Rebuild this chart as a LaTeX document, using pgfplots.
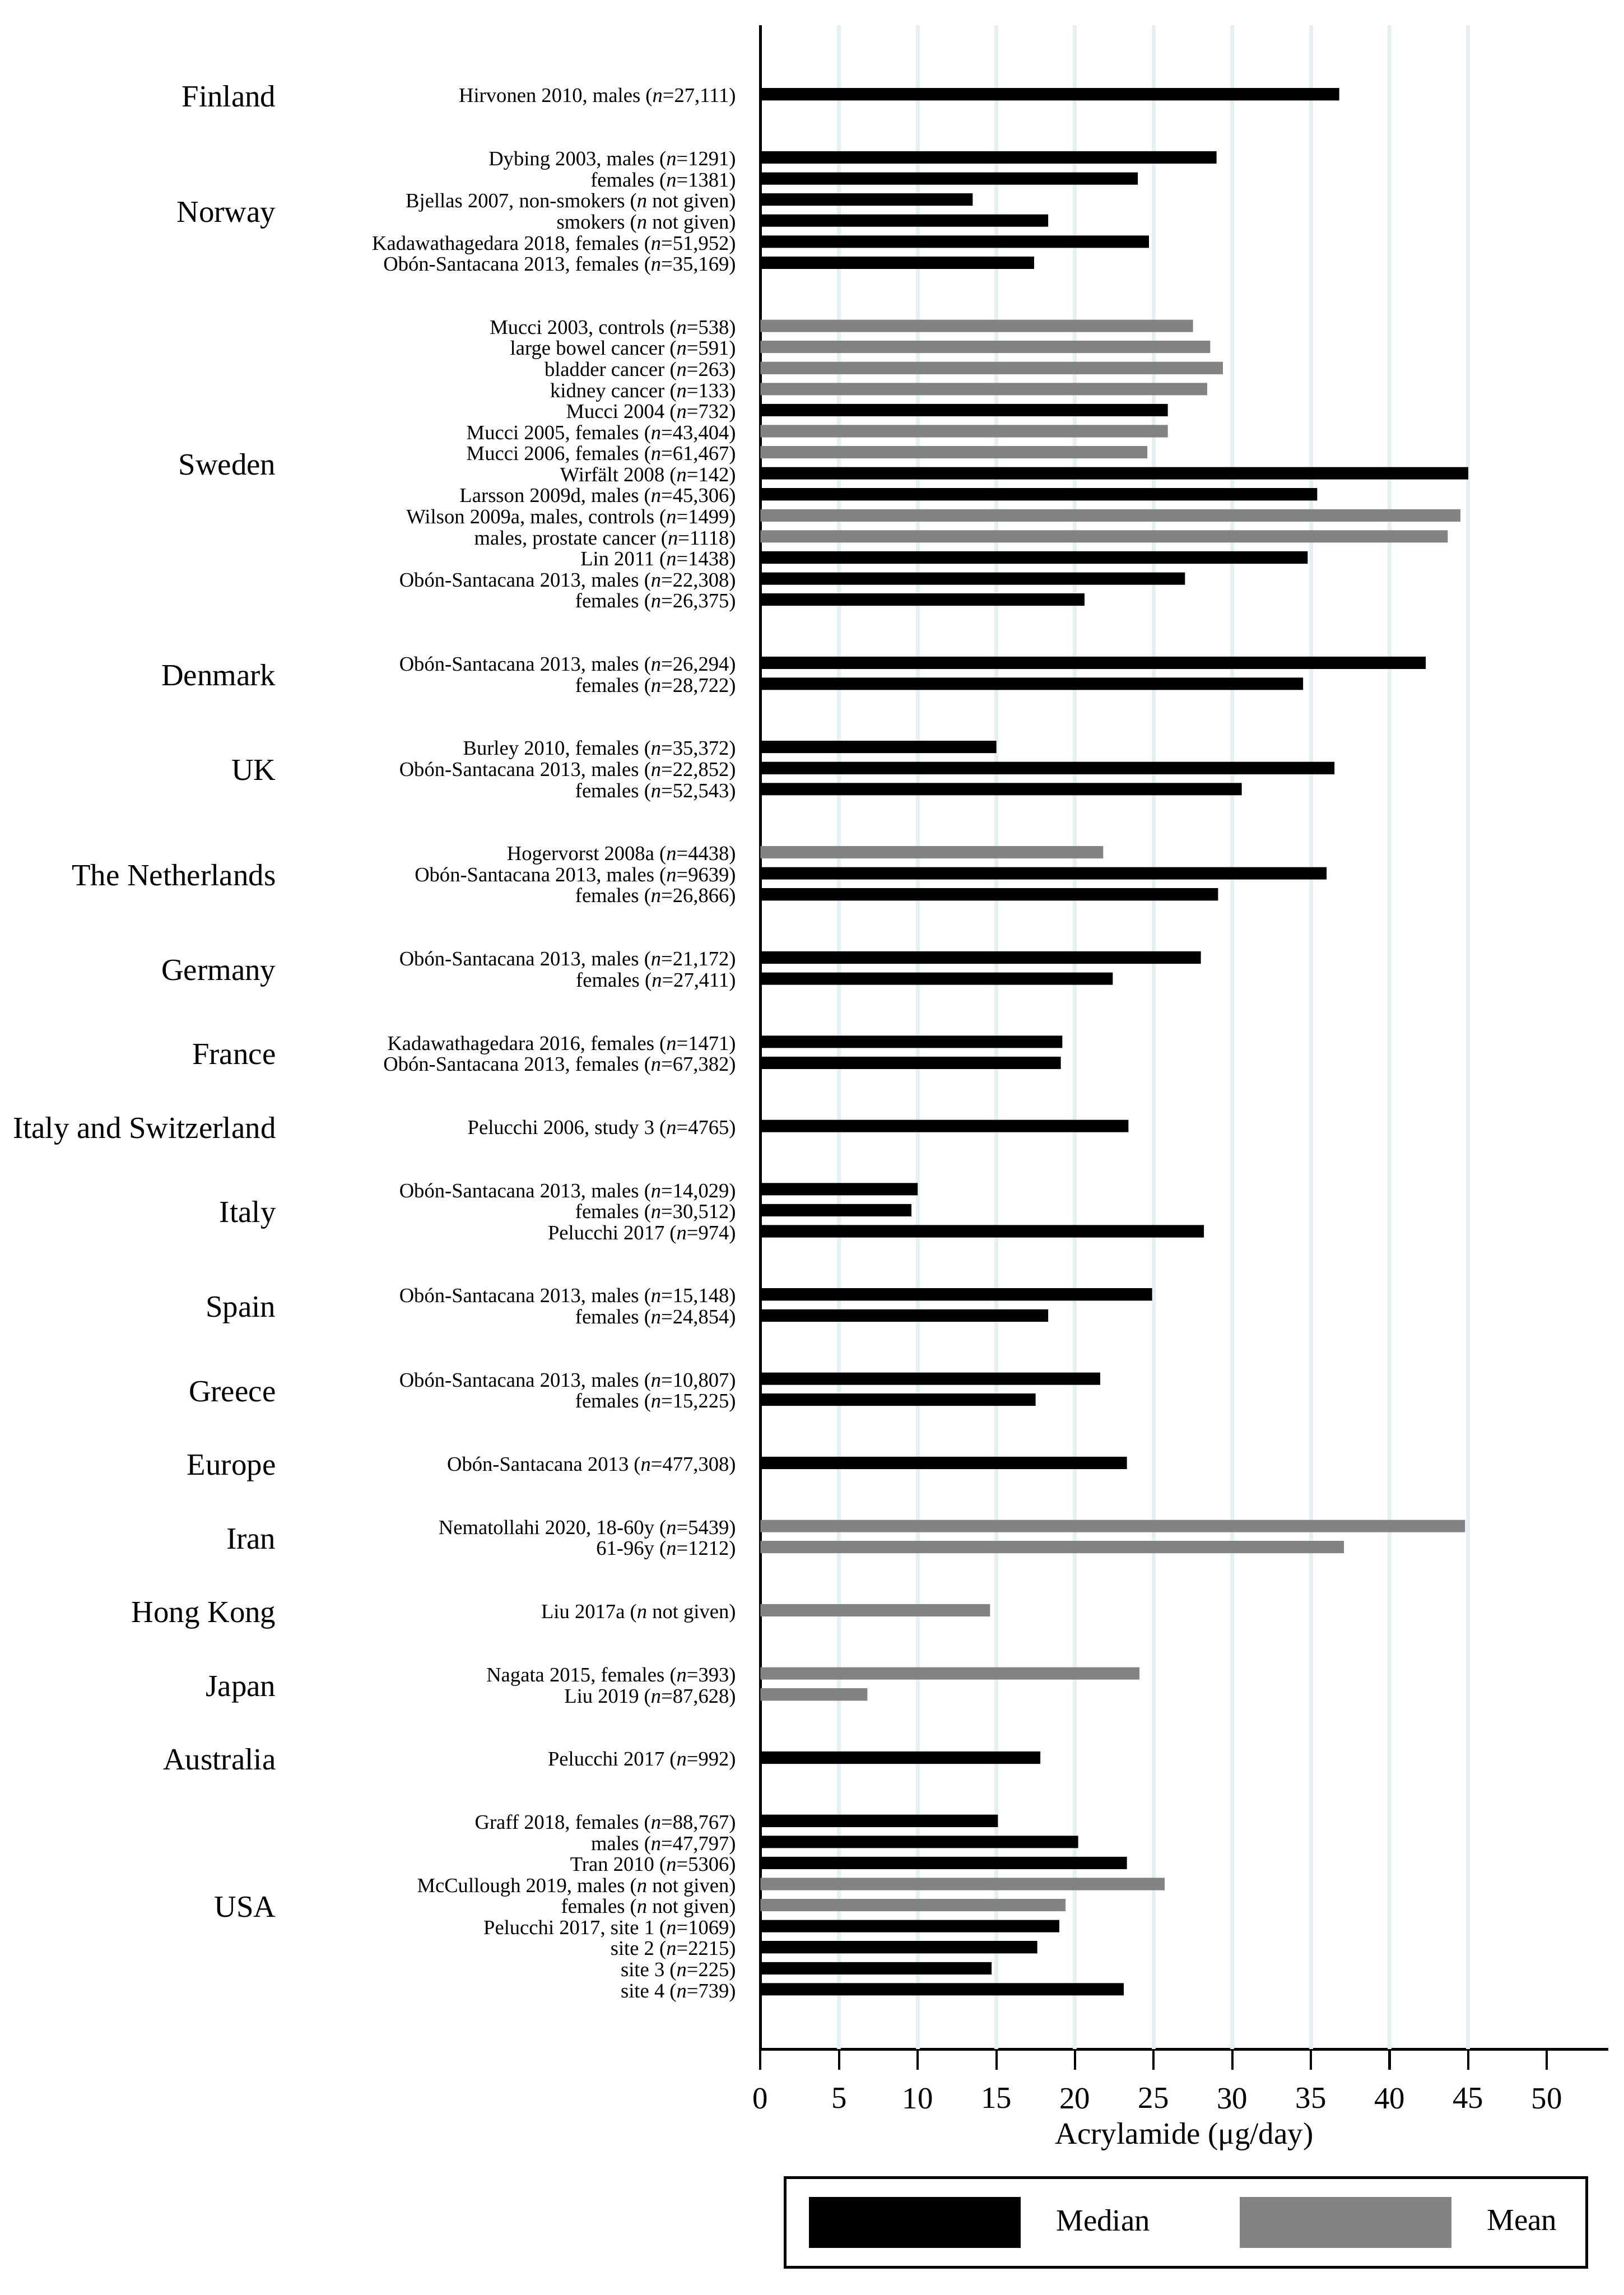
\documentclass[border=0pt]{standalone}
\usepackage{fontspec}
\setmainfont{Liberation Serif}
\usepackage{pgfplots}
\pgfplotsset{compat=1.18}
\definecolor{meangray}{RGB}{131,131,131}
\definecolor{gridc}{RGB}{228,240,241}
\newcommand{\bigf}{\fontsize{10.8}{13}\selectfont}
\newcommand{\smallf}{\fontsize{7.2}{8.6}\selectfont}
\pgfplotsset{bigpatch/.style={legend image code/.code={\fill[##1] (0pt,-8.9pt) rectangle (74.4pt,8.9pt);}}}

\begin{document}
\begin{tikzpicture}
\useasboundingbox (0,0) rectangle (570.4pt,-806pt);
\begin{axis}[
  at={(267.1pt,-719.7pt)}, anchor=south west,
  scale only axis, width=297.8pt, height=710.9pt,
  xmin=0, xmax=53.9, ymin=-92.85, ymax=3.286,
  axis lines*=left,
  axis line style={line width=1.1pt, black},
  xbar, bar shift=0pt, bar width=0.587,
  xtick={0,5,...,50},
  tick align=outside,
  major tick length=7.2pt,
  xtick style={line width=0.8pt, black},
  ytick style={draw=none},
  /pgf/number format/assume math mode=true,
  xticklabel style={font=\bigf, anchor=north, inner sep=0pt, yshift=-6.2pt},
  xlabel={Acrylamide (μg/day)},
  xlabel style={font=\bigf, at={(axis description cs:0.5,0)}, anchor=center, yshift=-30.7pt, inner sep=0pt},
  extra x ticks={5,10,...,45}, extra x tick labels={},
  extra x tick style={xmajorgrids=true, major grid style={gridc, line width=1.4pt}, major tick length=0pt},
  ytick={0,-3,-4,-5,-6,-7,-8,-11,-12,-13,-14,-15,-16,-17,-18,-19,-20,-21,-22,-23,-24,-27,-28,-31,-32,-33,-36,-37,-38,-41,-42,-45,-46,-49,-52,-53,-54,-57,-58,-61,-62,-65,-68,-69,-72,-75,-76,-79,-82,-83,-84,-85,-86,-87,-88,-89,-90},
  yticklabels={
    {Hirvonen 2010, males (\textit{n}=27,111)},
    {Dybing 2003, males (\textit{n}=1291)},
    {females (\textit{n}=1381)},
    {Bjellas 2007, non-smokers (\textit{n} not given)},
    {smokers (\textit{n} not given)},
    {Kadawathagedara 2018, females (\textit{n}=51,952)},
    {Obón-Santacana 2013, females (\textit{n}=35,169)},
    {Mucci 2003, controls (\textit{n}=538)},
    {large bowel cancer (\textit{n}=591)},
    {bladder cancer (\textit{n}=263)},
    {kidney cancer (\textit{n}=133)},
    {Mucci 2004 (\textit{n}=732)},
    {Mucci 2005, females (\textit{n}=43,404)},
    {Mucci 2006, females (\textit{n}=61,467)},
    {Wirfält 2008 (\textit{n}=142)},
    {Larsson 2009d, males (\textit{n}=45,306)},
    {Wilson 2009a, males, controls (\textit{n}=1499)},
    {males, prostate cancer (\textit{n}=1118)},
    {Lin 2011 (\textit{n}=1438)},
    {Obón-Santacana 2013, males (\textit{n}=22,308)},
    {females (\textit{n}=26,375)},
    {Obón-Santacana 2013, males (\textit{n}=26,294)},
    {females (\textit{n}=28,722)},
    {Burley 2010, females (\textit{n}=35,372)},
    {Obón-Santacana 2013, males (\textit{n}=22,852)},
    {females (\textit{n}=52,543)},
    {Hogervorst 2008a (\textit{n}=4438)},
    {Obón-Santacana 2013, males (\textit{n}=9639)},
    {females (\textit{n}=26,866)},
    {Obón-Santacana 2013, males (\textit{n}=21,172)},
    {females (\textit{n}=27,411)},
    {Kadawathagedara 2016, females (\textit{n}=1471)},
    {Obón-Santacana 2013, females (\textit{n}=67,382)},
    {Pelucchi 2006, study 3 (\textit{n}=4765)},
    {Obón-Santacana 2013, males (\textit{n}=14,029)},
    {females (\textit{n}=30,512)},
    {Pelucchi 2017 (\textit{n}=974)},
    {Obón-Santacana 2013, males (\textit{n}=15,148)},
    {females (\textit{n}=24,854)},
    {Obón-Santacana 2013, males (\textit{n}=10,807)},
    {females (\textit{n}=15,225)},
    {Obón-Santacana 2013 (\textit{n}=477,308)},
    {Nematollahi 2020, 18-60y (\textit{n}=5439)},
    {61-96y (\textit{n}=1212)},
    {Liu 2017a (\textit{n} not given)},
    {Nagata 2015, females (\textit{n}=393)},
    {Liu 2019 (\textit{n}=87,628)},
    {Pelucchi 2017 (\textit{n}=992)},
    {Graff 2018, females (\textit{n}=88,767)},
    {males (\textit{n}=47,797)},
    {Tran 2010 (\textit{n}=5306)},
    {McCullough 2019, males (\textit{n} not given)},
    {females (\textit{n} not given)},
    {Pelucchi 2017, site 1 (\textit{n}=1069)},
    {site 2 (\textit{n}=2215)},
    {site 3 (\textit{n}=225)},
    {site 4 (\textit{n}=739)}
  },
  yticklabel style={font=\smallf, anchor=base east, inner sep=0pt, xshift=-1.2pt, yshift=-2.9pt},
  extra y ticks={0,-5.5,-17.5,-27.5,-32,-37,-41.5,-45.5,-49,-53,-57.5,-61.5,-65,-68.5,-72,-75.5,-79,-86},
  extra y tick labels={Finland,Norway,Sweden,Denmark,UK,The Netherlands,Germany,France,Italy and Switzerland,Italy,Spain,Greece,Europe,Iran,Hong Kong,Japan,Australia,USA},
  extra y tick style={yticklabel style={font=\bigf, xshift=-161.6pt, yshift=-1.4pt}},
  legend columns=2,
  legend style={
    at={(axis description cs:0.0272,-0.0627)}, anchor=north west,
    draw=black, line width=1pt,
    inner xsep=8.5pt, inner ysep=6.8pt,
    font=\bigf,
    /tikz/every odd column/.style={column sep=10.4pt},
    /tikz/every even column/.style={column sep=29.5pt},
  },
  legend cell align=left,
]
\addplot[fill=black, draw=none, bigpatch]
  coordinates {
  (36.8,0) (29.0,-3) (24.0,-4) (13.5,-5) (18.3,-6) (24.7,-7) (17.4,-8)
  (25.9,-15) (45.0,-18) (35.4,-19) (34.8,-22) (27.0,-23) (20.6,-24)
  (42.3,-27) (34.5,-28)
  (15.0,-31) (36.5,-32) (30.6,-33)
  (36.0,-37) (29.1,-38)
  (28.0,-41) (22.4,-42)
  (19.2,-45) (19.1,-46)
  (23.4,-49)
  (10.0,-52) (9.6,-53) (28.2,-54)
  (24.9,-57) (18.3,-58)
  (21.6,-61) (17.5,-62)
  (23.3,-65)
  (17.8,-79)
  (15.1,-82) (20.2,-83) (23.3,-84) (19.0,-87) (17.6,-88) (14.7,-89) (23.1,-90)
  };
\addlegendentry{Median}
\addplot[fill=meangray, draw=none, bigpatch]
  coordinates {
  (27.5,-11) (28.6,-12) (29.4,-13) (28.4,-14) (25.9,-16) (24.6,-17)
  (44.5,-20) (43.7,-21)
  (21.8,-36)
  (44.8,-68) (37.1,-69)
  (14.6,-72)
  (24.1,-75) (6.8,-76)
  (25.7,-85) (19.4,-86)
  };
\addlegendentry{Mean\hspace{1.5pt}}
\end{axis}
\end{tikzpicture}
\end{document}
